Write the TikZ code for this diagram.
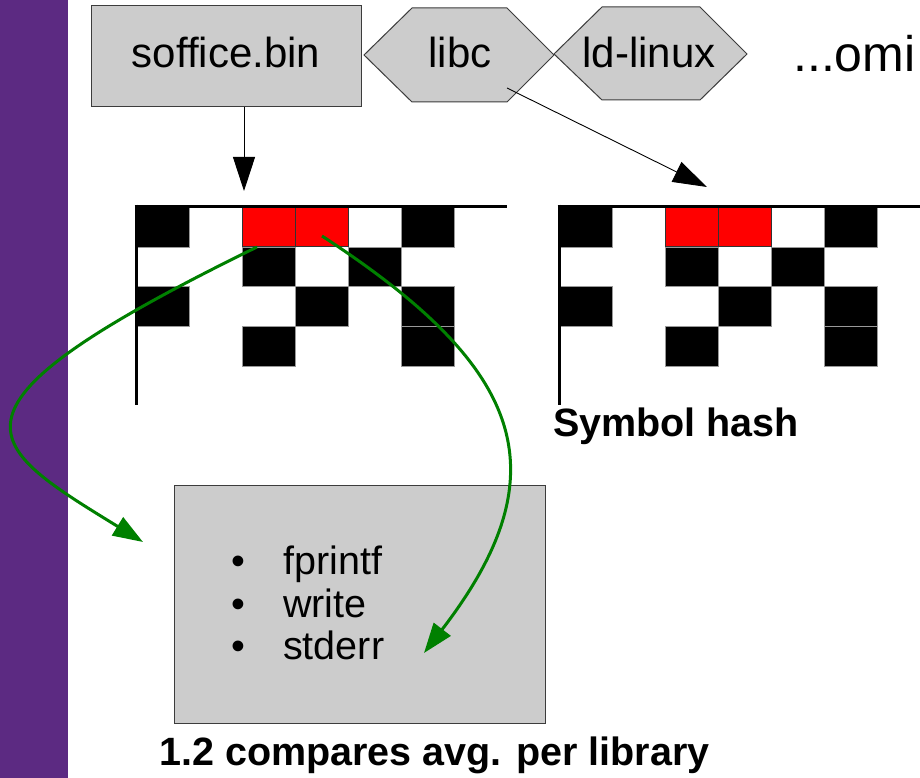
\documentclass[tikz,border=0pt]{standalone}
\usepackage{fontspec}
\setmainfont{Liberation Sans}
\usetikzlibrary{arrows.meta}
\definecolor{barpurple}{RGB}{92,42,130}
\definecolor{boxgray}{RGB}{204,204,204}
\definecolor{edgegray}{RGB}{60,60,60}
\definecolor{arrowgreen}{RGB}{0,128,0}
\begin{document}
\begin{tikzpicture}[x=1pt,y=-1pt,
  boxstyle/.style={draw=edgegray, fill=boxgray, line width=1pt},
  toplabel/.style={font=\fontsize{42}{48}\selectfont, inner sep=0pt, anchor=base},
  bodytext/.style={font=\fontsize{39.5}{46}\selectfont, inner sep=0pt, anchor=base west},
  bulletmark/.style={font=\fontsize{39.5}{46}\selectfont, inner sep=0pt, anchor=base},
  boldtext/.style={font=\bfseries\fontsize{39.5}{46}\selectfont, inner sep=0pt, anchor=base west},
  blackcell/.style={fill=black, draw=black!40, line width=0.4pt},
  redcell/.style={fill=red, draw=black!80, line width=0.6pt},
  axisline/.style={draw=black, line width=3pt},
  blackarrow/.style={draw=black, line width=0.9pt, -{Triangle[length=34pt,width=22pt]}},
  greenarrow/.style={draw=arrowgreen, line width=3pt, -{Triangle[length=30pt,width=21pt]}}
]
\useasboundingbox (0,0) rectangle (920,778);
\fill[white] (0,0) rectangle (920,778);
% purple side bar
\fill[barpurple] (0,0) rectangle (68,778);

% grids
\foreach \gx/\gend in {136/507, 559/920}{
  \begin{scope}[shift={(\gx,207)}]
    \foreach \r/\c in {0/0,0/5,1/2,1/4,2/0,2/3,2/5,3/2,3/5}{
      \path[blackcell] (53*\c,39.75*\r) rectangle ++(53,39.75);
    }
    \foreach \c in {2,3}{
      \path[redcell] (53*\c,0) rectangle ++(53,39.75);
    }
  \end{scope}
  \draw[axisline] (\gx-1.5,206) -- (\gend,206);
  \draw[axisline] (\gx,204.5) -- (\gx,405);
}

% top boxes
\node[boxstyle, minimum width=270pt, minimum height=101pt, inner sep=0pt, anchor=north west] (soffice) at (91,5) {};
\node[toplabel] (sofficelabel) at (226,68) {soffice.bin};
\draw[boxstyle] (364,55) -- (412,8) -- (507,8) -- (554,55) -- (507,102) -- (412,102) -- cycle;
\node[toplabel] (libc) at (460,68) {libc};
\draw[boxstyle] (554,54) -- (602,7) -- (700,7) -- (747,54) -- (700,100) -- (602,100) -- cycle;
\node[toplabel] (ldlinux) at (649,68) {ld-linux};
\node[font=\fontsize{50}{56}\selectfont, inner sep=0pt, anchor=base west] (omitted) at (793,72) {...omi};

% black arrows
\coordinate (gridonetip) at (244,191);
\draw[blackarrow] (soffice.south -| gridonetip) -- (gridonetip);
\coordinate (libcsrc) at (507,88);
\coordinate (gridtwotip) at (707,187);
\draw[blackarrow] (libcsrc) -- (gridtwotip);

% list box
\node[boxstyle, minimum width=371pt, minimum height=238pt, inner sep=0pt, anchor=north west] (listbox) at (174,485) {};
\node[bulletmark] (bulletone) at (238,574) {\textbullet};
\node[bulletmark] (bullettwo) at (238,617) {\textbullet};
\node[bulletmark] (bulletthree) at (238,659) {\textbullet};
\node[bodytext] (itemone) at (283,574) {fprintf};
\node[bodytext] (itemtwo) at (283,617) {write};
\node[bodytext] (itemthree) at (283,659) {stderr};

% captions
\node[boldtext] (symhash) at (553,436) {Symbol hash};
\node[boldtext] (caption) at (159,765) {1.2 compares avg. per library};

% green arrows
\coordinate (redA) at (257,247);
\coordinate (listleft) at (143,542);
\draw[greenarrow] (redA) .. controls (-76,410) and (-18,443) .. (listleft);
\coordinate (redB) at (322,236);
\coordinate (listright) at (424,653);
\draw[greenarrow] (redB) .. controls (523,367) and (564,471) .. (listright);
\end{tikzpicture}
\end{document}
